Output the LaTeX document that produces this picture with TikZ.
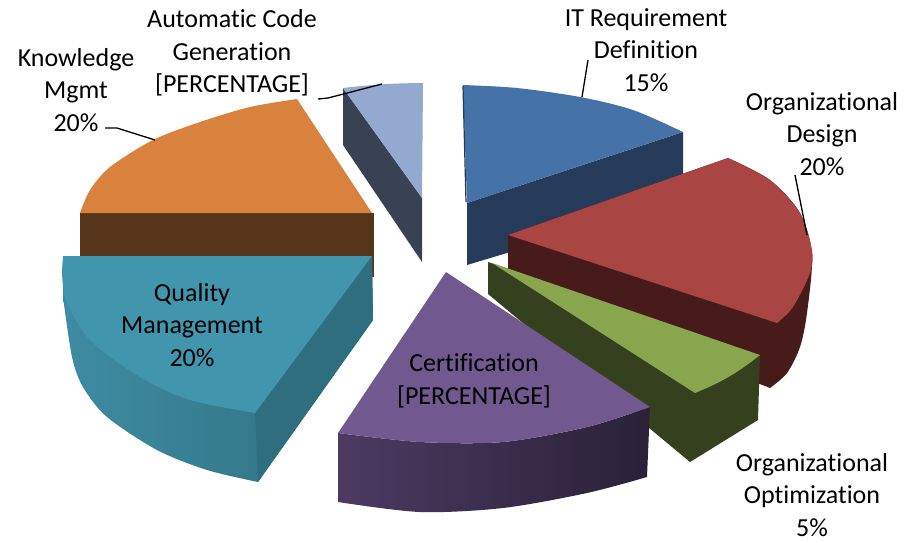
\documentclass[tikz,border=0pt]{standalone}
\usepackage{fontspec}
\setmainfont{Carlito}[Ligatures=NoCommon]
\usepackage{tikz}
\definecolor{itTop}{RGB}{69,114,167}
\definecolor{itSide}{RGB}{38,59,90}
\definecolor{acTop}{RGB}{147,169,207}
\definecolor{acSide}{RGB}{57,66,82}
\definecolor{kmTop}{RGB}{217,130,62}
\definecolor{kmSide}{RGB}{87,53,26}
\definecolor{odTop}{RGB}{169,69,67}
\definecolor{odSide}{RGB}{72,27,27}
\definecolor{ooTop}{RGB}{137,165,78}
\definecolor{ooSide}{RGB}{53,65,30}
\definecolor{qmTop}{RGB}{65,150,173}
\definecolor{qmSideL}{RGB}{62,140,162}
\definecolor{qmSideR}{RGB}{47,110,126}
\definecolor{ceTop}{RGB}{113,88,143}
\definecolor{ceSideL}{RGB}{76,58,97}
\definecolor{ceSideR}{RGB}{42,33,56}
\tikzset{
	lbl/.style={align=center, inner sep=0pt, font=\fontsize{26}{32.5}\selectfont},
	leader/.style={line width=1.3pt}
}

\begin{document}
\begin{tikzpicture}[x=1pt,y=-1pt]
		%%%%% START %%%%%
		\useasboundingbox (0,0) rectangle (914,542);
		
		% automatic code generation
		\fill[acSide] (343,88) -- (422,198) -- (422,262) -- (343,145) -- cycle;
		\fill[acTop] (343,88) to[bend left=3] (423,83) -- (422,198) -- cycle;
		
		% it requirement definition
		\fill[itSide] (467,203) -- (683,132) -- (683,200) -- (467,265) -- cycle;
		\fill[itTop] (467,203) -- (463,85) -- plot[smooth] coordinates {(463,85) (517,88) (580,97) (633,110) (683,132)} -- cycle;
		\draw[itSide, line width=1.2pt] (463,86) -- (466,202);
		
		% knowledge mgmt
		\fill[kmSide] (80,213) rectangle (374,277);
		\fill[kmTop] (80,213) -- plot[smooth] coordinates {(80,213) (90,190) (110,167) (153,140) (200,122) (250,107) (297,99)} -- (372,213) -- cycle;
		
		% organizational design
		\fill[odSide] (508,235) -- (728,158) -- plot[smooth] coordinates {(728,158) (770,180) (800,213) (812,255) (807,313) (800,347) (787,373) (770,388)} -- (508,285) -- cycle;
		\fill[odTop] (508,235) -- (728,158) -- plot[smooth] coordinates {(728,158) (770,180) (800,213) (812,250) (810,273) (793,307) (777,323)} -- cycle;
		
		% organizational optimization
		\fill[ooSide] (488,262) -- (760,355) -- (758,420) -- (690,462) -- (488,294) -- cycle;
		\fill[ooTop] (492,263) -- (760,355) to[bend left=8] (695,393) -- cycle;
		
		% quality management
		\path[left color=qmSideL, right color=qmSideR] (63,256) -- (372,256) -- (373,320) -- (258,482) -- plot[smooth] coordinates {(258,482) (207,470) (157,450) (107,417) (83,387) (72,357) (63,297)} -- cycle;
		\fill[qmSideR] (372,256) -- (373,320) -- (258,482) -- (255,413) -- cycle;
		\fill[qmTop] (63,256) -- (372,256) -- (255,413) -- plot[smooth] coordinates {(255,413) (190,400) (140,377) (90,340) (66,300) (62,270)} -- cycle;
		
		% certification
		\path[left color=ceSideL, right color=ceSideR] (338,433) -- plot[smooth] coordinates {(338,433) (420,442) (503,442) (587,427) (650,407)} -- (647,477) -- plot[smooth] coordinates {(647,477) (587,493) (503,508) (420,512) (338,502)} -- cycle;
		\fill[ceTop] (446,272) -- (338,433) -- plot[smooth] coordinates {(338,433) (420,442) (503,442) (587,427) (650,407)} -- cycle;
		
		% labels
		\node[lbl] (aclabel) at (232,53) {Automatic Code\\Generation\\{}[PERCENTAGE]};
		\node[lbl] (kmlabel) at (76,90) {Knowledge\\Mgmt\\20\%};
		\node[lbl] (itlabel) at (646,50) {IT Requirement\\Definition\\15\%};
		\node[lbl] (odlabel) at (822,134) {Organizational\\Design\\20\%};
		\node[lbl] (qmlabel) at (192,325) {Quality\\Management\\20\%};
		\node[lbl] (celabel) at (474,381) {Certification\\{}[PERCENTAGE]};
		\node[lbl] (oolabel) at (812,495) {Organizational\\Optimization\\5\%};
		
		% leader lines
		\coordinate (acfoot) at (318,99);
		\coordinate (actip) at (382,84);
		\coordinate (kmfoot) at (105,128);
		\coordinate (kmtip) at (155,140);
		\coordinate (itfoot) at (588,60);
		\coordinate (ittip) at (582,97);
		\coordinate (odfoot) at (795,175);
		\coordinate (odtip) at (807,235);
		\draw[leader] (acfoot) -- ++(10,-1) -- (actip);
		\draw[leader] (kmfoot) -- ++(12,0) -- (kmtip);
		\draw[leader] (itfoot) -- (ittip);
		\draw[leader] (odfoot) -- (odtip);
		%%%%% END %%%%%
	\end{tikzpicture}
\end{document}
